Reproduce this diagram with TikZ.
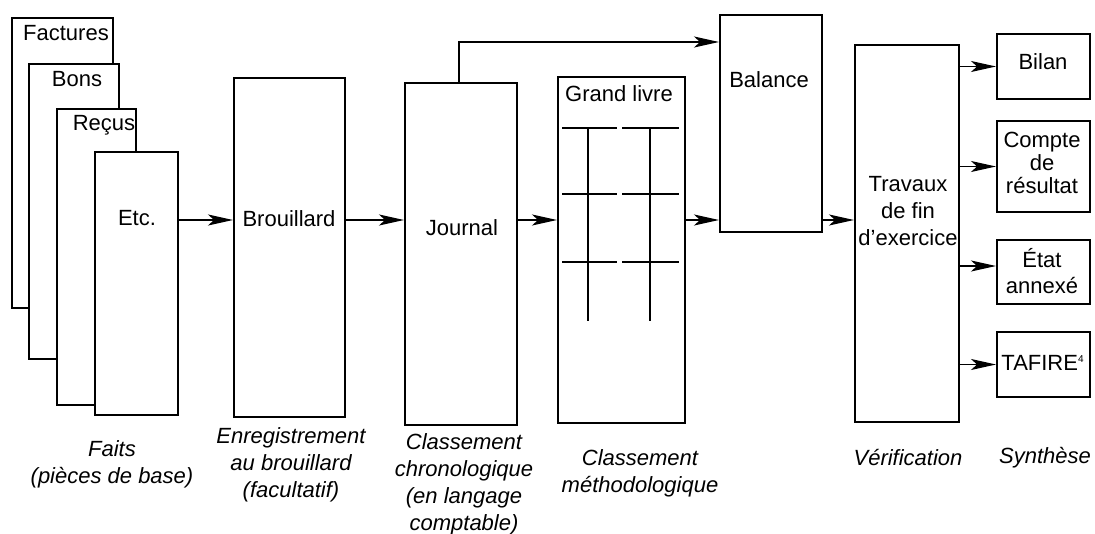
\documentclass[tikz,border=0pt]{standalone}
\usepackage{fontspec}
\setmainfont{Liberation Sans}
\usetikzlibrary{arrows.meta,fit}
\tikzset{
  box/.style={draw, fill=white, line width=1pt, inner sep=0pt},
  txt/.style={font=\fontsize{11}{13.5}\selectfont, align=center, inner sep=0pt},
  lbl/.style={font=\fontsize{11}{13.5}\selectfont\itshape, align=center, inner sep=0pt},
  arr/.style={line width=0.7pt, -{Stealth[length=12.5pt,width=5.5pt,inset=3pt]}}
}
\begin{document}
\begin{tikzpicture}[x=0.5pt,y=0.5pt,yscale=-1,xscale=1]
\useasboundingbox (0,0) rectangle (1095,534);
\node[box, fit={(12,18) (113,308)}] (fact) {};
\node[txt] (factt) at (66,33) {Factures};
\node[box, fit={(29,64) (119,359)}] (bons) {};
\node[txt] (bonst) at (77,79) {Bons};
\node[box, fit={(57,109) (136,405)}] (recus) {};
\node[txt] (recust) at (104,125) {Reçus};
\node[box, fit={(95,152) (178,415)}] (etc) {};
\node[txt] (etct) at (137,218) {Etc.};
\node[box, fit={(234,78) (345,417)}] (brou) {};
\node[txt] (brout) at (289,219) {Brouillard};
\node[box, fit={(405,83) (517,425)}] (jour) {};
\node[txt] (jourt) at (462,228) {Journal};
\node[box, fit={(558,77) (685,423)}] (grand) {};
\node[txt] (grandt) at (619,94) {Grand livre};
\foreach \y in {128,194,262} {
  \draw[line width=0.75pt] (562,\y) -- (617,\y);
  \draw[line width=0.75pt] (622,\y) -- (679,\y);
}
\foreach \x in {588,650} \draw[line width=1.4pt] (\x,128) -- (\x,321);
\node[box, fit={(720,15) (822,232)}] (bal) {};
\node[txt] (balt) at (769,80) {Balance};
\node[box, fit={(855,45) (959,422)}] (trav) {};
\node[txt] (travt) at (908,211) {Travaux\\de fin\\d'exercice};
\node[box, fit={(997,34) (1090,99)}] (bilan) {};
\node[txt] (bilant) at (1043,62) {Bilan};
\node[box, fit={(997,121) (1090,212)}] (compte) {};
\node[txt, font=\fontsize{11}{11.5}\selectfont] (comptet) at (1042,163) {Compte\\de\\résultat};
\node[box, fit={(997,240) (1090,304)}] (etat) {};
\node[txt, font=\fontsize{11}{13}\selectfont] (etatt) at (1042,271) {État\\annexé};
\node[box, fit={(997,332) (1090,397)}] (tafire) {};
\node[txt] (tafiret) at (1043,363) {TAFIRE\textsuperscript{\tiny 4}};
\coordinate (row) at (0,220);
\coordinate (top) at (459,42);
\coordinate (r3) at (0,266);
\draw[arr] (etc.east |- row) -- (brou.west |- row);
\draw[arr] (brou.east |- row) -- (jour.west |- row);
\draw[arr] (jour.east |- row) -- (grand.west |- row);
\draw[arr] (grand.east |- row) -- (bal.west |- row);
\draw[arr] (bal.east |- row) -- (trav.west |- row);
\draw[arr] (jour.north -| top) |- (bal.west |- top);
\draw[arr] (trav.east |- bilan) -- (bilan.west);
\draw[arr] (trav.east |- compte) -- (compte.west);
\draw[arr] (trav.east |- r3) -- (etat.west |- r3);
\draw[arr] (trav.east |- tafire) -- (tafire.west);
\node[lbl] (faits) at (112,464) {Faits\\(pièces de base)};
\node[lbl] (enreg) at (291,465) {Enregistrement\\au brouillard\\(facultatif)};
\node[lbl] (chrono) at (464,484) {Classement\\chronologique\\(en langage\\comptable)};
\node[lbl] (metho) at (640,473) {Classement\\méthodologique};
\node[lbl] (verif) at (908,458) {Vérification};
\node[lbl] (synth) at (1045,458) {Synthèse};
\end{tikzpicture}
\end{document}
